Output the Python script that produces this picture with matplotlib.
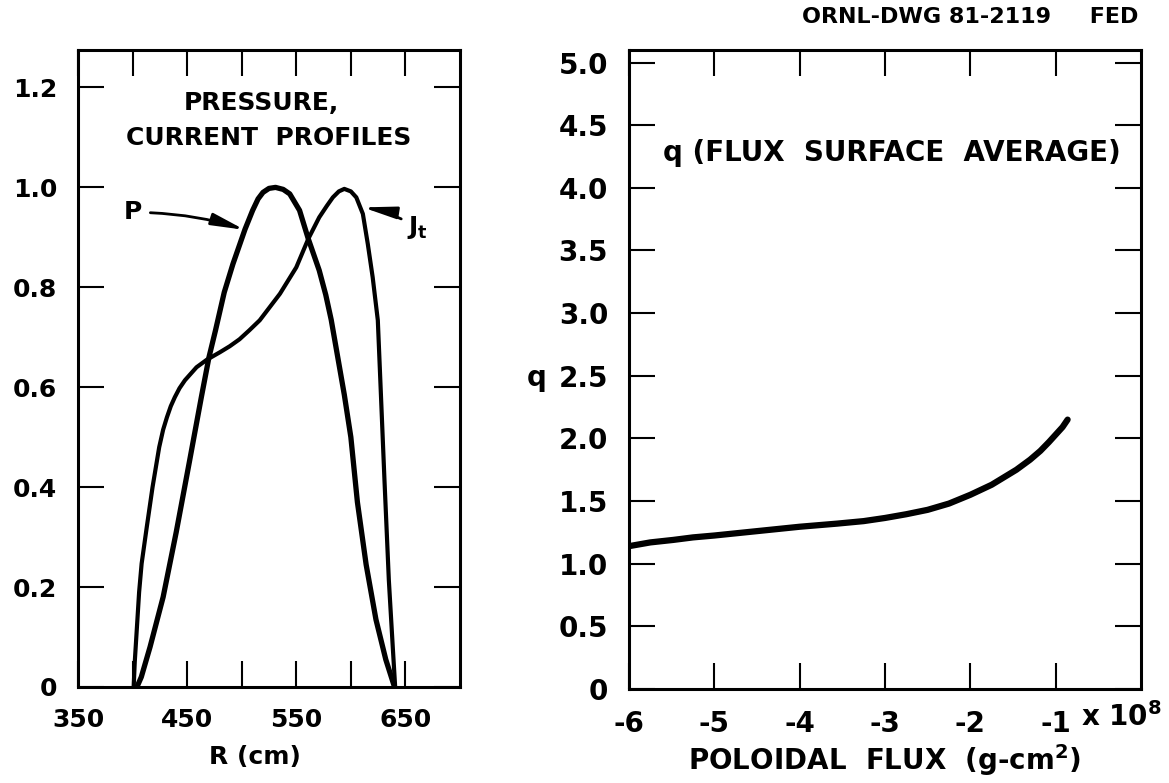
import matplotlib
matplotlib.use('Agg')
import matplotlib.pyplot as plt

# left panel: pressure and toroidal current profiles vs major radius (cm)
r_p = [404, 408, 416, 428, 440, 452, 463, 470, 476, 484, 492, 503, 510, 515,
       519.5, 525, 531, 538, 544, 553, 561, 571, 577, 582, 588, 594, 600, 606,
       614, 623, 632, 640]
p = [0.0, 0.02, 0.08, 0.18, 0.31, 0.45, 0.58, 0.66, 0.714, 0.79, 0.847, 0.916,
     0.954, 0.977, 0.99, 0.998, 1.0, 0.996, 0.987, 0.954, 0.897, 0.834, 0.785,
     0.735, 0.66, 0.585, 0.50, 0.37, 0.245, 0.135, 0.055, 0.0]

r_j = [401, 402, 404, 406, 408.3, 413, 418.3, 424.4, 428, 431.5, 435, 438.7,
       443, 448, 458.6, 468, 480, 489, 498, 507, 516.5, 535, 550, 561, 571,
       578, 583.5, 589, 594, 600, 605, 611, 615.5, 620, 624.7, 626.5, 630.8,
       634.8, 638.4, 640.6]
j_t = [0.0, 0.05, 0.12, 0.19, 0.247, 0.32, 0.40, 0.48, 0.515, 0.54, 0.562,
       0.58, 0.598, 0.614, 0.64, 0.655, 0.67, 0.682, 0.696, 0.714, 0.734,
       0.787, 0.84, 0.897, 0.94, 0.963, 0.98, 0.992, 0.997, 0.992, 0.98, 0.947,
       0.887, 0.82, 0.734, 0.64, 0.414, 0.214, 0.08, 0.0]

# right panel: flux-surface averaged q vs poloidal flux (x 1e8 g-cm^2)
psi = [-6.0, -5.75, -5.48, -5.25, -5.0, -4.5, -4.0, -3.56, -3.25, -3.0,
       -2.75, -2.5, -2.25, -2.0, -1.75, -1.46, -1.3, -1.18, -1.08, -1.0,
       -0.92, -0.86]
q = [1.14, 1.17, 1.19, 1.21, 1.225, 1.26, 1.295, 1.32, 1.34, 1.365, 1.395,
     1.43, 1.48, 1.55, 1.63, 1.75, 1.83, 1.9, 1.97, 2.03, 2.09, 2.15]

left_yticks = [0, 0.2, 0.4, 0.6, 0.8, 1.0, 1.2]
left_ylabels = ['0', '0.2', '0.4', '0.6', '0.8', '1.0', '1.2']
left_xmajor = [350, 450, 550, 650]
left_xminor = [400, 500, 600]
right_yticks = [0, 0.5, 1.0, 1.5, 2.0, 2.5, 3.0, 3.5, 4.0, 4.5, 5.0]
right_ylabels = ['0', '0.5', '1.0', '1.5', '2.0', '2.5', '3.0', '3.5',
                 '4.0', '4.5', '5.0']
right_xticks = [-6, -5, -4, -3, -2, -1]
right_xlabels = ['-6', '-5', '-4', '-3', '-2', '-1']

plt.rcParams['font.family'] = ['DejaVu Sans']
plt.rcParams['font.weight'] = 'bold'
plt.rcParams['mathtext.default'] = 'bf'

fig = plt.figure(figsize=(11.69, 7.83), dpi=100)
ax1 = fig.add_axes([78 / 1169, 96 / 783, 382 / 1169, 637 / 783])
ax2 = fig.add_axes([629 / 1169, 94 / 783, 512 / 1169, 639 / 783])

for ax, fs in ((ax1, 18), (ax2, 20)):
    for s in ax.spines.values():
        s.set_linewidth(2.2)
    ax.tick_params(which='both', direction='in', top=True, right=True,
                   length=19, width=1.5, pad=15, labelsize=fs)

# left panel
ax1.plot(r_p, p, color='black', linewidth=3.8, solid_capstyle='round',
         solid_joinstyle='round')
ax1.plot(r_j, j_t, color='black', linewidth=3.0, solid_capstyle='round',
         solid_joinstyle='round')
ax1.set_xlim(350, 700)
ax1.set_ylim(0, 1.275)
ax1.set_xticks(left_xmajor)
ax1.set_xticks(left_xminor, minor=True)
ax1.set_yticks(left_yticks)
ax1.set_yticklabels(left_ylabels)
ax1.text(0.463, -0.11, 'R (cm)', transform=ax1.transAxes, ha='center',
         va='center', fontsize=18)

ax1.text(518, 1.168, 'PRESSURE,', ha='center', va='center', fontsize=18)
ax1.text(525, 1.098, 'CURRENT  PROFILES', ha='center', va='center', fontsize=18)

ax1.annotate('P', xy=(502.7, 0.915), xytext=(400.3, 0.95), fontsize=18,
             ha='center', va='center',
             arrowprops=dict(arrowstyle='-|>,head_length=1.1,head_width=0.2',
                             connectionstyle='arc3,rad=-0.08', color='black',
                             lw=2, shrinkA=4, shrinkB=0))
ax1.annotate(r'J$_{t}$', xy=(611, 0.96), xytext=(651, 0.92),
             fontsize=18, ha='left', va='center',
             arrowprops=dict(arrowstyle='-|>,head_length=1.1,head_width=0.2',
                             connectionstyle='arc3,rad=0.1', color='black',
                             lw=2, shrinkA=2, shrinkB=0))

# right panel
ax2.plot(psi, q, color='black', linewidth=4.5, solid_capstyle='round',
         solid_joinstyle='round')
ax2.set_xlim(-6, 0)
ax2.set_ylim(0, 5.1)
ax2.set_xticks(right_xticks)
ax2.set_xticklabels(right_xlabels)
ax2.set_yticks(right_yticks)
ax2.set_yticklabels(right_ylabels)
ax2.text(0.5, -0.111, r'POLOIDAL  FLUX  (g-cm$^{2}$)', transform=ax2.transAxes,
         ha='center', va='center', fontsize=20)
ax2.text(-0.18, 2.48, 'q', transform=ax2.get_yaxis_transform(), ha='center',
         va='center', fontsize=20)
ax2.text(-2.92, 4.28, 'q (FLUX  SURFACE  AVERAGE)', ha='center', va='center',
         fontsize=20)
ax2.annotate(r'x 10$^{8}$', xy=(-0.7, 0), xycoords=('data', 'axes fraction'),
             xytext=(0, -27), textcoords='offset points', ha='left',
             va='baseline', fontsize=20)

fig.text(1138 / 1169, 1 - 17 / 783, 'ORNL-DWG 81-2119     FED', ha='right',
         va='center', fontsize=16, fontweight='bold')

fig.savefig('out.png', dpi=100)
